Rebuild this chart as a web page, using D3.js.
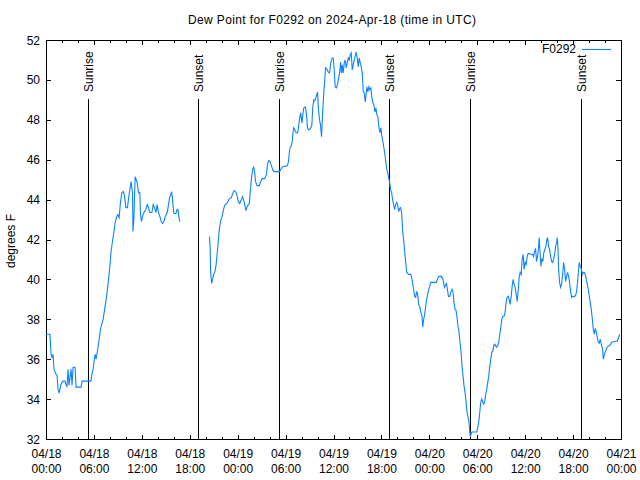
<!DOCTYPE html>
<html><head><meta charset="utf-8">
<script src="https://cdn.jsdelivr.net/npm/d3@7"></script>
<style>
body{margin:0;background:#fff}
text{font-family:"Liberation Sans",Arial,sans-serif;font-size:12px;fill:#000}
</style>
</head><body>
<svg id="c" width="640" height="480"></svg>
<script>
// ---- data (hours since 2024-04-18 00:00 UTC, dew point in °F) ----
const titleText = "Dew Point for F0292 on 2024-Apr-18 (time in UTC)";
const seriesName = "F0292";
const yTicks = [32,34,36,38,40,42,44,46,48,50,52];
const sunriseHours = [5.32, 29.12, 53.03];
const sunsetHours = [19.05, 42.99, 67.05];

const hoursA = [
0.00,0.50,0.63,0.75,0.88,1.00,1.25,1.38,1.50,1.63,
1.88,2.13,2.38,2.63,2.76,2.89,3.14,3.26,3.39,3.64,
3.76,4.39,4.52,5.27,5.64,5.70,5.90,6.02,6.15,6.27,
6.52,6.77,6.90,7.15,7.53,7.78,8.03,8.15,8.32,8.49,
8.66,8.82,8.99,9.16,9.32,9.50,9.70,9.82,10.00,10.20,
10.32,10.50,10.66,10.75,10.83,10.89,11.00,11.16,11.29,11.41,
11.58,11.75,11.83,11.95,12.08,12.26,12.50,12.67,12.83,13.00,
13.26,13.42,13.59,13.76,13.92,14.09,14.26,14.43,14.59,14.76,
14.93,15.18,15.34,15.47,15.64,15.72,15.84,15.93,16.02,16.27,
16.40,16.52,16.65,16.77];
const dewA = [
37.25,37.25,36.25,36.1,36.25,35.5,35.25,35.2,34.5,34.3,
34.75,34.9,34.9,34.6,35.5,34.7,35.5,34.7,35.6,35.6,
34.6,34.6,34.9,34.9,34.9,35.15,35.5,35.9,36.25,36.0,
36.6,37.35,37.65,38.0,39.0,39.8,40.8,41.4,41.9,42.35,
42.85,43.1,43.25,43.1,43.85,44.35,44.4,44.2,43.6,43.6,
44.0,44.5,44.9,44.55,44.35,42.4,43.0,45.15,45.0,44.85,
44.35,44.35,43.25,42.9,43.15,43.35,43.5,43.75,43.6,43.35,
43.35,43.75,43.6,43.35,43.75,43.35,43.15,42.9,42.8,42.9,
43.15,43.35,43.75,44.1,44.25,44.4,44.05,43.6,43.3,43.3,
43.5,43.5,43.1,42.9];

const hoursB = [
20.48,20.55,20.61,20.74,20.86,20.99,21.16,21.29,21.41,21.54,
21.66,21.79,21.91,22.04,22.17,22.29,22.42,22.62,22.79,22.96,
23.21,23.37,23.55,23.75,23.92,24.08,24.25,24.42,24.62,24.80,
24.93,25.05,25.18,25.34,25.46,25.63,25.75,25.88,26.00,26.13,
26.25,26.43,26.72,26.88,27.06,27.38,27.60,27.72,27.89,28.06,
28.22,28.39,28.56,29.23,29.44,29.60,30.23,30.36,30.48,30.61,
30.73,30.86,30.92,31.02,31.15,31.32,31.52,31.65,31.77,31.90,
31.99,32.08,32.15,32.28,32.49,32.62,32.74,32.87,33.08,33.28,
33.41,33.53,33.66,33.83,34.00,34.12,34.25,34.37,34.50,34.58,
34.66,34.78,34.91,35.00,35.16,35.34,35.50,35.66,35.84,35.96,
36.09,36.21,36.38,36.54,36.67,36.79,36.88,37.00,37.09,37.22,
37.34,37.47,37.59,37.72,37.85,37.97,38.10,38.22,38.35,38.47,
38.60,38.72,38.85,38.97,39.10,39.22,39.35,39.47,39.60,39.72,
39.85,39.98,40.05,40.18,40.30,40.43,40.56,40.68,40.81,40.93,
41.06,41.18,41.31,41.43,41.56,41.68,41.81,41.94,42.06,42.19,
42.31,42.44,42.56,42.69,42.86,43.03,43.15,43.28,43.40,43.53,
43.65,43.78,43.91,44.03,44.16,44.28,44.41,44.53,44.66,44.78,
44.91,45.03,45.16,45.41,45.66,45.79,45.91,46.04,46.16,46.29,
46.41,46.54,46.66,46.79,46.95,47.08,47.17,47.29,47.42,47.54,
47.67,47.79,47.92,48.04,48.17,48.88,49.05,49.21,49.51,49.71,
49.89,50.01,50.14,50.26,50.39,50.55,50.68,50.84,50.97,51.09,
51.22,51.34,51.47,51.59,51.72,51.84,51.97,52.10,52.22,52.35,
52.47,52.60,52.72,52.85,52.97,53.06,53.15,53.22,53.35,53.94,
54.06,54.19,54.32,54.44,54.57,54.69,54.82,54.94,55.07,55.19,
55.32,55.44,55.57,55.69,55.82,55.95,56.07,56.20,56.32,56.45,
56.57,56.70,56.82,56.95,57.07,57.20,57.36,57.49,57.61,57.74,
57.87,57.99,58.12,58.24,58.37,58.49,58.62,58.74,58.87,59.00,
59.12,59.25,59.37,59.50,59.62,59.75,59.87,60.00,60.12,60.25,
60.37,60.93,61.05,61.18,61.30,61.43,61.55,61.68,61.75,61.84,
61.97,62.09,62.22,62.34,62.47,62.59,62.72,62.81,62.93,63.06,
63.18,63.31,63.44,63.56,63.69,63.81,63.94,64.02,64.10,64.19,
64.31,64.44,64.56,64.69,64.81,64.94,65.06,65.19,65.31,65.44,
65.56,65.69,65.82,65.94,66.19,66.32,66.44,66.57,66.69,66.77,
66.90,67.02,67.15,67.27,67.40,67.53,67.65,67.78,67.90,68.03,
68.15,68.28,68.40,68.53,68.65,68.78,68.91,69.03,69.16,69.28,
69.41,69.53,69.70,69.78,69.87,70.00,70.12,70.25,70.37,70.62,
70.84,71.25,71.54,71.72,71.84];
const dewB = [
42.15,41.6,40.4,39.8,40.0,40.25,40.4,40.7,41.2,41.75,
42.35,42.75,43.0,43.15,43.4,43.6,43.75,43.8,43.9,44.05,
44.1,44.3,44.45,44.4,44.2,43.9,43.8,43.95,44.15,43.9,
43.65,43.45,43.65,43.75,43.8,44.65,45.15,45.5,45.65,45.35,
44.9,44.7,44.7,44.9,45.05,45.05,45.25,45.75,45.95,45.9,
45.7,45.5,45.4,45.4,45.55,45.65,45.7,45.9,46.4,46.65,
46.7,47.0,47.35,47.6,47.5,47.35,47.35,47.75,48.1,48.35,
48.0,47.85,48.25,48.6,48.65,48.25,47.6,47.5,47.55,47.7,
48.65,49.0,48.95,49.15,49.4,48.5,48.0,47.75,47.15,47.85,
48.5,49.35,50.0,50.6,50.55,50.4,50.35,50.85,51.1,51.1,
50.5,49.65,49.6,49.85,50.15,50.4,50.9,50.35,50.75,50.35,
50.85,51.0,50.6,50.85,51.1,51.0,51.25,51.35,50.5,50.75,
51.0,51.2,51.4,51.1,50.65,51.1,50.85,50.65,50.35,49.4,
49.35,48.9,49.15,49.65,49.4,49.65,49.5,49.6,49.1,48.85,
48.75,48.4,48.6,48.25,48.15,47.65,47.35,47.6,47.15,46.9,
46.6,46.25,45.85,45.5,45.2,44.85,44.5,44.35,44.0,43.75,
43.5,43.75,43.85,43.75,43.4,43.55,43.6,43.35,42.4,42.0,
41.4,40.9,40.35,40.25,40.25,40.1,39.8,39.5,39.15,39.1,
39.4,39.25,38.75,38.65,38.35,38.15,37.6,38.0,38.25,38.65,
39.0,39.25,39.5,39.65,39.85,39.85,40.05,40.15,40.15,40.0,
39.6,39.7,39.8,39.5,39.15,39.15,39.35,39.5,39.35,38.85,
38.5,38.45,38.1,37.65,37.35,36.85,36.35,35.65,35.15,34.65,
34.35,33.85,33.35,33.1,32.85,32.35,32.1,32.25,32.35,32.35,
32.6,32.85,33.35,33.85,34.0,33.85,33.75,33.9,34.25,34.5,
34.85,35.15,35.65,36.0,36.35,36.4,36.7,36.75,36.65,36.6,
36.7,36.85,37.25,37.6,38.0,38.15,38.15,38.35,38.85,39.1,
39.15,39.0,38.75,39.1,39.65,40.0,39.75,39.6,39.25,38.9,
39.4,40.1,40.35,40.25,41.0,41.25,40.5,40.85,40.75,41.15,
41.3,41.25,41.15,41.4,41.55,40.9,41.15,41.65,42.1,41.5,
40.65,41.05,40.9,41.35,41.5,41.65,42.0,42.1,41.65,41.5,
41.15,40.9,40.85,41.0,41.25,41.65,41.85,42.1,41.6,40.5,
39.85,39.6,39.75,40.25,40.85,40.5,39.9,40.15,40.35,40.15,
39.85,39.4,39.1,39.15,39.15,39.2,39.4,39.9,40.5,40.85,
40.65,40.55,40.25,40.35,40.35,40.25,40.0,39.75,39.5,39.15,
38.85,38.5,38.05,37.5,37.25,37.55,37.35,37.1,36.85,36.8,
37.0,36.75,36.5,36.0,36.15,36.35,36.45,36.6,36.65,36.7,
36.85,36.9,36.9,37.1,37.25];

if (hoursA.length !== dewA.length || hoursB.length !== dewB.length)
  throw new Error("length mismatch " + hoursA.length + "/" + dewA.length + " " + hoursB.length + "/" + dewB.length);

// ---- drawing ----
const svg = d3.select("#c");
const L = 46, R = 621, T = 40, B = 439;
const t0 = Date.UTC(2024, 3, 18);
const toDate = h => new Date(t0 + h * 3600e3);
const x = d3.scaleUtc().domain([toDate(0), toDate(72)]).range([L, R]);
const y = d3.scaleLinear().domain([32, 52]).range([B, T]);

svg.append("rect").attr("width", 640).attr("height", 480).attr("fill", "#fff");

function axis(gen, tr) {
  const g = svg.append("g").attr("transform", tr).call(gen);
  g.select(".domain").remove();
  g.selectAll("text").remove();
  g.selectAll("line").attr("stroke", "#000").attr("shape-rendering", "crispEdges");
  return g;
}
const minor = d3.utcHour.every(2), major = d3.utcHour.every(6);
axis(d3.axisBottom(x).ticks(minor).tickSize(-3), `translate(0,${B + 1})`);
axis(d3.axisBottom(x).ticks(major).tickSize(-5), `translate(0,${B + 1})`);
axis(d3.axisTop(x).ticks(minor).tickSize(-3), `translate(0,${T})`);
axis(d3.axisTop(x).ticks(major).tickSize(-5), `translate(0,${T})`);
axis(d3.axisLeft(y).tickValues(yTicks).tickSize(-5), `translate(${L},0)`);
axis(d3.axisRight(y).tickValues(yTicks).tickSize(-5), `translate(${R},0)`);

// frame
svg.append("rect").attr("x", L + 0.5).attr("y", T + 0.5)
  .attr("width", R - L).attr("height", B - T)
  .attr("fill", "none").attr("stroke", "#000").attr("shape-rendering", "crispEdges");

// y labels
svg.append("g").selectAll("text").data(yTicks).join("text")
  .attr("x", 40).attr("y", d => y(d) + 4.5).attr("text-anchor", "end").text(d => d);

// x labels
const fmtD = d3.utcFormat("%m/%d"), fmtT = d3.utcFormat("%H:%M");
const xl = svg.append("g").selectAll("text").data(x.ticks(major)).join("text")
  .attr("text-anchor", "middle");
xl.append("tspan").attr("x", d => x(d) + 0.5).attr("y", 458).text(d => fmtD(d));
xl.append("tspan").attr("x", d => x(d) + 0.5).attr("y", 473).text(d => fmtT(d));

// title and axis label
svg.append("text").attr("x", 332).attr("y", 24).attr("text-anchor", "middle")
  .attr("textLength", 288).attr("lengthAdjust", "spacing").text(titleText);
svg.append("text").attr("transform", "translate(15,241) rotate(-90)").attr("text-anchor", "middle").text("degrees F");

// sunrise / sunset markers
const events = sunriseHours.map(h => ({h, label: "Sunrise"}))
  .concat(sunsetHours.map(h => ({h, label: "Sunset"})));
const ev = svg.append("g").selectAll("g").data(events).join("g");
ev.append("line")
  .attr("x1", d => Math.round(x(toDate(d.h))) + 0.5).attr("x2", d => Math.round(x(toDate(d.h))) + 0.5)
  .attr("y1", 99).attr("y2", B + 0.5).attr("stroke", "#000").attr("shape-rendering", "crispEdges");
ev.append("text")
  .attr("transform", d => `translate(${Math.round(x(toDate(d.h))) + 5},92) rotate(-90)`)
  .text(d => d.label);

// series
const line = d3.line().x(d => x(toDate(d[0]))).y(d => y(d[1]));
const segs = [d3.zip(hoursA, dewA), d3.zip(hoursB, dewB)];
svg.append("g").selectAll("path").data(segs).join("path")
  .attr("d", line).attr("fill", "none").attr("stroke", "#0a84ff").attr("stroke-width", 1.1);

// legend
svg.append("text").attr("x", 576).attr("y", 53).attr("text-anchor", "end").text(seriesName);
svg.append("line").attr("x1", 582).attr("x2", 611).attr("y1", 49.5).attr("y2", 49.5)
  .attr("stroke", "#0a84ff").attr("stroke-width", 1.1);
</script>
</body></html>
